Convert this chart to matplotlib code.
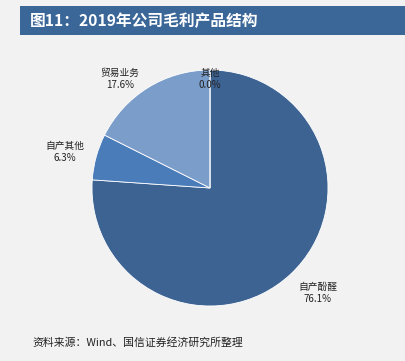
import numpy as np
import matplotlib
matplotlib.use('Agg')
import matplotlib.pyplot as plt
from matplotlib.patches import Rectangle

plt.rcParams['font.family'] = ['Noto Sans CJK SC', 'DejaVu Sans']

labels = ['自产酚醛', '自产其他', '贸易业务', '其他']
shares = [76.1, 6.3, 17.6, 0.0]
colors = ['#3d6393', '#4a7cba', '#7b9dc9', '#3d6393']

bg = '#f2f2f2'
fig = plt.figure(figsize=(4.05, 3.61), dpi=100, facecolor=bg)

# title bar
fig.patches.append(Rectangle((20 / 405, 1 - 35 / 361), 385 / 405, 29 / 361,
                             transform=fig.transFigure, facecolor='#3a6698',
                             edgecolor='none'))
fig.text(30 / 405, 1 - 20.5 / 361, '图11：2019年公司毛利产品结构', color='white',
         fontsize=11.3, fontweight='bold', va='center', ha='left')

# pie: center (210,188) px, radius 118 px
cx, cy, r = 210, 188, 118
ax = fig.add_axes([(cx - r) / 405, (361 - cy - r) / 361, 2 * r / 405, 2 * r / 361])
ax.set_facecolor(bg)
wedges, _ = ax.pie(shares, colors=colors, startangle=90, counterclock=False,
                   wedgeprops=dict(edgecolor='white', linewidth=0.6))
ax.set_xlim(-1, 1)
ax.set_ylim(-1, 1)
ax.set_aspect('equal')
ax.axis('off')

# label positions (in pie radius units)
label_pos = [(0.915, -0.89), (-1.229, 0.305), (-0.763, 0.924), (0.0, 0.924)]
for name, val, (x, y) in zip(labels, shares, label_pos):
    ax.text(x, y, f'{name}\n{val:.1f}%', ha='center', va='center', fontsize=7,
            linespacing=1.25, color='#222222', clip_on=False)

fig.text(32 / 405, 1 - 342 / 361, '资料来源：Wind、国信证券经济研究所整理',
         fontsize=7.8, color='#222222', va='center', ha='left')

fig.savefig('out.png', dpi=100, facecolor=bg)
